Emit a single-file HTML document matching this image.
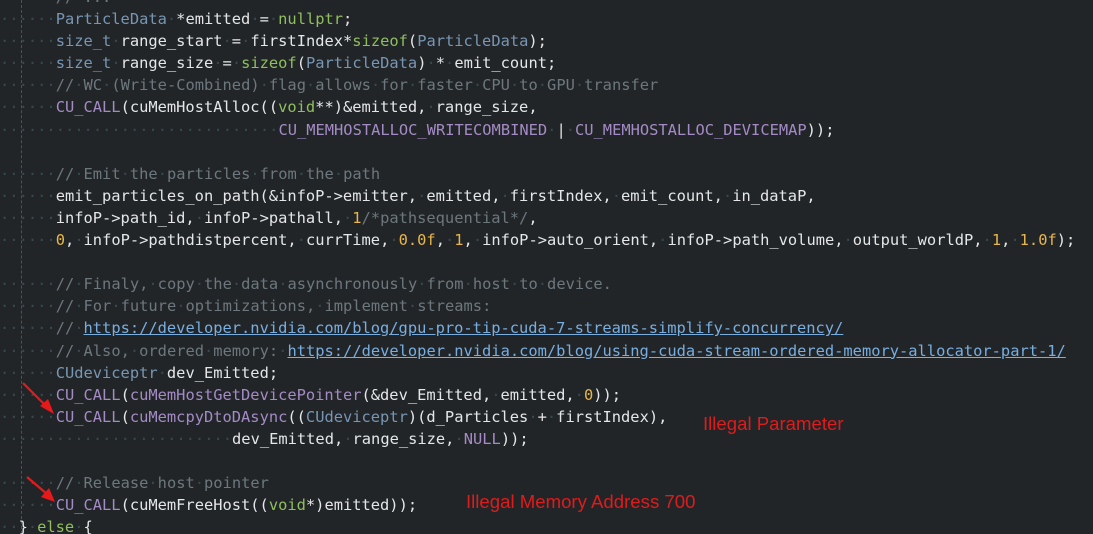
<!DOCTYPE html>
<html><head><meta charset="utf-8">
<style>
html,body{margin:0;padding:0;background:#222528;width:1093px;height:534px;overflow:hidden;position:relative}
#code{position:absolute;left:0;top:-14px;font-family:"DejaVu Sans Mono","Liberation Mono",monospace;font-size:15.4px;line-height:22.09px;color:#e4e6e8;white-space:pre;margin:0}
.t{color:#7896b4}.k{color:#8fbf5e}.m{color:#a48bc6}.c{color:#6c787e}.n{color:#e8b64a}.u{color:#78aee0;text-decoration:underline}
.s{color:#354a50}
.guide{position:absolute;left:21px;top:0;height:534px;border-left:1px dashed #4a5358}
.ann{position:absolute;font-family:"Liberation Sans",sans-serif;font-size:18.6px;color:#e01b1b}
svg{position:absolute;left:0;top:0}
</style></head><body>
<div class="guide"></div>
<pre id="code"><span class="c">      // ...</span>
      <span class="t">ParticleData</span> *emitted = <span class="k">nullptr</span>;
      <span class="t">size_t</span> range_start = firstIndex*<span class="k">sizeof</span>(<span class="t">ParticleData</span>);
      <span class="t">size_t</span> range_size = <span class="k">sizeof</span>(<span class="t">ParticleData</span>) * emit_count;
      <span class="c">// WC (Write-Combined) flag allows for faster CPU to GPU transfer</span>
      <span class="m">CU_CALL</span>(cuMemHostAlloc((<span class="k">void</span>**)&amp;emitted, range_size,
                              <span class="m">CU_MEMHOSTALLOC_WRITECOMBINED</span> | <span class="m">CU_MEMHOSTALLOC_DEVICEMAP</span>));

      <span class="c">// Emit the particles from the path</span>
      emit_particles_on_path(&amp;infoP-&gt;emitter, emitted, firstIndex, emit_count, in_dataP,
      infoP-&gt;path_id, infoP-&gt;pathall, <span class="n">1</span><span class="c">/*pathsequential*/</span>,
      <span class="n">0</span>, infoP-&gt;pathdistpercent, currTime, <span class="n">0.0f</span>, <span class="n">1</span>, infoP-&gt;auto_orient, infoP-&gt;path_volume, output_worldP, <span class="n">1</span>, <span class="n">1.0f</span>);

      <span class="c">// Finaly, copy the data asynchronously from host to device.</span>
      <span class="c">// For future optimizations, implement streams:</span>
      <span class="c">// </span><span class="u">https://developer.nvidia.com/blog/gpu-pro-tip-cuda-7-streams-simplify-concurrency/</span>
      <span class="c">// Also, ordered memory: </span><span class="u">https://developer.nvidia.com/blog/using-cuda-stream-ordered-memory-allocator-part-1/</span>
      <span class="t">CUdeviceptr</span> dev_Emitted;
      <span class="m">CU_CALL</span>(<span class="m">cuMemHostGetDevicePointer</span>(&amp;dev_Emitted, emitted, <span class="n">0</span>));
      <span class="m">CU_CALL</span>(<span class="m">cuMemcpyDtoDAsync</span>((<span class="t">CUdeviceptr</span>)(d_Particles + firstIndex),
                         dev_Emitted, range_size, <span class="m">NULL</span>));

      <span class="c">// Release host pointer</span>
      <span class="m">CU_CALL</span>(cuMemFreeHost((<span class="k">void</span>*)emitted));
  } <span class="k">else</span> {</pre>
<svg width="1093" height="534">
<g stroke="#e8191b" stroke-width="2.2" fill="none">
<line x1="23" y1="383" x2="46" y2="406"/>
<line x1="27" y1="477" x2="47" y2="494"/>
</g>
<path d="M40,406 L54,414 L48,399 Z" fill="#e8191b"/>
<path d="M41,497 L55,502 L49,488 Z" fill="#e8191b"/>
</svg>
<div class="ann" style="left:703px;top:413px">Illegal Parameter</div>
<div class="ann" style="left:466px;top:491px">Illegal Memory Address 700</div>
<script>
(function(){
 var w=document.createTreeWalker(document.getElementById('code'),NodeFilter.SHOW_TEXT,null,false),ns=[],n;
 while(n=w.nextNode())ns.push(n);
 ns.forEach(function(t){
  if(t.nodeValue.indexOf(' ')<0)return;
  var f=document.createDocumentFragment(),parts=t.nodeValue.split(' ');
  parts.forEach(function(p,i){
   if(i>0){var s=document.createElement('span');s.className='s';s.textContent='\u00b7';f.appendChild(s);}
   if(p)f.appendChild(document.createTextNode(p));
  });
  t.parentNode.replaceChild(f,t);
 });
})();
</script>
</body></html>
